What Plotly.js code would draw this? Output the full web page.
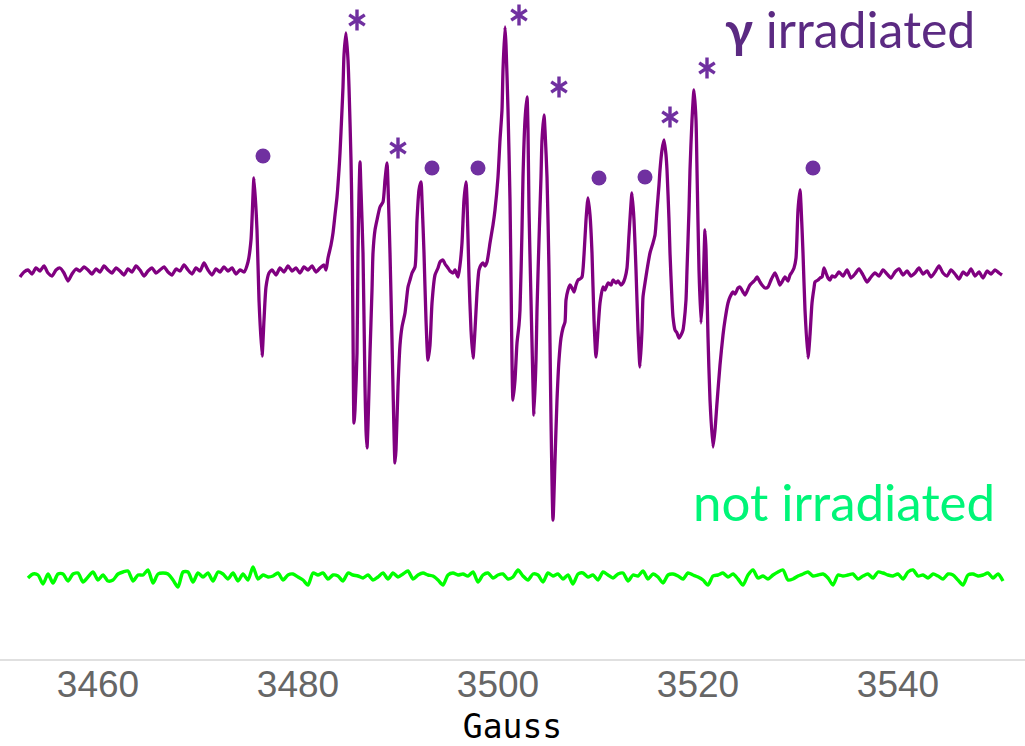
<!DOCTYPE html>
<html>
<head>
<meta charset="utf-8">
<script src="https://cdn.plot.ly/plotly-3.0.1.min.js"></script>
<style>html,body{margin:0;padding:0;background:#fff;}#chart{width:1025px;height:746px;}</style>
</head>
<body>
<div id="chart"></div>
<script>
// Irradiated sample: magnetic field (Gauss) and first-derivative EPR signal (arb. units)
const irrField = [3452.2,3452.6,3453.0,3453.4,3453.8,3454.2,3454.6,3455.0,3455.4,3455.8,3456.2,3456.6,3457.0,3457.4,3457.8,3458.2,3458.6,3459.0,3459.4,3459.8,3460.2,3460.6,3461.0,3461.4,3461.8,3462.2,3462.6,3463.0,3463.4,3463.8,3464.2,3464.6,3465.0,3465.4,3465.8,3466.2,3466.6,3467.0,3467.4,3467.8,3468.2,3468.6,3469.0,3469.4,3469.8,3470.2,3470.6,3471.0,3471.4,3471.8,3472.2,3472.6,3473.0,3473.4,3473.8,3474.2,3474.6,3475.0,3475.3,3475.6,3475.9,3476.1,3476.4,3476.6,3476.8,3477.1,3477.4,3477.8,3478.2,3478.6,3479.0,3479.4,3479.8,3480.2,3480.6,3481.0,3481.4,3481.8,3482.2,3482.6,3482.8,3483.0,3483.3,3483.5,3483.7,3483.9,3484.1,3484.2,3484.4,3484.5,3484.6,3484.8,3485.0,3485.1,3485.3,3485.4,3485.5,3485.6,3485.7,3485.9,3486.0,3486.1,3486.2,3486.3,3486.5,3486.7,3486.8,3486.9,3487.0,3487.2,3487.4,3487.5,3487.7,3487.9,3488.2,3488.5,3488.7,3488.9,3489.0,3489.2,3489.4,3489.5,3489.7,3489.8,3490.0,3490.2,3490.4,3490.7,3491.0,3491.2,3491.4,3491.7,3491.9,3492.1,3492.3,3492.4,3492.6,3492.8,3493.0,3493.2,3493.4,3493.7,3494.0,3494.2,3494.5,3494.7,3495.0,3495.2,3495.5,3495.7,3496.0,3496.2,3496.4,3496.6,3496.8,3496.9,3497.1,3497.3,3497.5,3497.7,3497.9,3498.1,3498.3,3498.5,3498.7,3498.9,3499.1,3499.2,3499.5,3499.7,3500.0,3500.2,3500.4,3500.5,3500.7,3500.8,3501.0,3501.2,3501.3,3501.5,3501.7,3501.9,3502.1,3502.2,3502.4,3502.5,3502.7,3502.9,3503.0,3503.1,3503.3,3503.4,3503.6,3503.8,3503.9,3504.1,3504.3,3504.4,3504.6,3504.7,3504.9,3505.1,3505.2,3505.3,3505.5,3505.7,3505.9,3506.1,3506.3,3506.5,3506.7,3506.8,3507.0,3507.2,3507.4,3507.6,3507.8,3508.0,3508.2,3508.4,3508.6,3508.8,3509.0,3509.2,3509.4,3509.6,3509.8,3510.0,3510.2,3510.5,3510.7,3511.0,3511.3,3511.5,3511.8,3512.0,3512.3,3512.5,3512.7,3512.9,3513.1,3513.4,3513.6,3513.8,3514.0,3514.2,3514.4,3514.5,3514.7,3514.9,3515.2,3515.5,3515.7,3515.9,3516.1,3516.2,3516.4,3516.6,3516.8,3516.9,3517.1,3517.2,3517.4,3517.5,3517.7,3517.9,3518.1,3518.3,3518.5,3518.6,3518.8,3518.9,3519.1,3519.2,3519.4,3519.6,3519.8,3519.9,3520.1,3520.3,3520.5,3520.7,3520.8,3521.0,3521.2,3521.5,3521.7,3521.9,3522.2,3522.5,3522.7,3523.0,3523.2,3523.5,3523.7,3524.0,3524.2,3524.5,3524.7,3525.0,3525.2,3525.5,3525.7,3525.9,3526.2,3526.4,3526.7,3527.0,3527.3,3527.5,3527.7,3528.0,3528.2,3528.4,3528.7,3529.0,3529.2,3529.4,3529.6,3529.8,3530.0,3530.2,3530.3,3530.5,3530.7,3531.0,3531.2,3531.4,3531.6,3531.7,3532.0,3532.2,3532.4,3532.6,3532.8,3533.0,3533.2,3533.4,3533.7,3534.1,3534.5,3534.9,3535.3,3535.7,3536.1,3536.5,3536.9,3537.3,3537.7,3538.1,3538.5,3538.9,3539.3,3539.7,3540.1,3540.5,3540.9,3541.3,3541.7,3542.1,3542.5,3542.9,3543.3,3543.7,3544.1,3544.5,3544.9,3545.3,3545.7,3546.1,3546.5,3546.9,3547.3,3547.7,3548.1,3548.5,3548.9,3549.3,3549.7,3550.1,3550.4];
const irrSignal = [-5,0,2,-2,4,1,6,-1,-4,2,4,-1,-9,-2,3,1,5,2,-2,3,0,6,2,-1,4,1,-3,3,0,6,2,-4,1,4,-1,2,5,0,-3,3,1,7,2,-2,4,1,9,2,-3,3,0,5,1,4,-2,2,0,10,32,94,42,-28,-84,-48,-15,-1,2,-3,4,0,6,1,4,-1,5,2,6,0,4,7,2,14,27,39,57,75,102,119,162,185,217,239,212,185,112,52,-58,-151,-138,-81,19,77,110,82,19,-115,-158,-176,-153,-81,-18,19,42,52,65,70,92,109,87,19,-68,-115,-191,-178,-115,-73,-55,-41,-15,-8,-1,5,52,82,90,72,19,-48,-88,-73,-31,-3,4,10,12,8,4,1,-1,2,-5,7,29,72,90,72,-5,-58,-86,-58,-21,2,7,9,6,10,22,29,47,62,95,132,162,202,245,227,162,72,-5,-128,-108,-71,-53,-38,42,95,152,175,142,62,-28,-71,-143,-88,-38,32,95,132,157,142,95,2,-71,-148,-248,-188,-128,-88,-66,-56,-50,-28,-18,-13,-16,-20,-13,-8,-7,-5,17,52,74,57,19,-48,-85,-58,-31,-15,-18,-11,-13,-8,-11,-9,-13,-11,-6,4,37,79,52,2,-58,-95,-58,-25,-11,2,19,29,37,62,87,102,122,132,117,102,52,19,-28,-45,-58,-61,-66,-63,-58,-51,-28,2,62,102,152,182,152,102,2,-51,-18,42,22,-65,-128,-175,-158,-131,-93,-63,-48,-31,-25,-20,-22,-16,-15,-20,-23,-17,-13,-10,-8,-5,-10,-13,-16,-15,-8,-4,-1,-8,-13,-10,-5,-9,-3,0,4,14,62,82,67,19,-38,-86,-63,-31,-16,-10,-8,-6,-5,4,-1,-6,-8,-4,-5,0,-4,2,-6,-2,3,-3,-10,-5,-1,-4,2,-2,-6,0,3,-3,1,-4,-1,4,-2,1,-5,0,6,-1,-4,2,-2,-7,0,-3,3,-4,0,-6,1,-2,2,-1,-3];

// Non-irradiated sample
const refField = [3453.0,3453.5,3454.0,3454.5,3455.0,3455.5,3456.0,3456.5,3457.0,3457.5,3458.0,3458.5,3459.0,3459.5,3460.0,3460.5,3461.0,3461.5,3462.0,3462.5,3463.0,3463.5,3464.0,3464.5,3465.0,3465.5,3466.0,3466.5,3467.0,3467.5,3468.0,3468.5,3469.0,3469.5,3470.0,3470.5,3471.0,3471.5,3472.0,3472.5,3473.0,3473.5,3474.0,3474.5,3475.0,3475.5,3476.0,3476.5,3477.0,3477.5,3478.0,3478.5,3479.0,3479.5,3480.0,3480.5,3481.0,3481.5,3482.0,3482.5,3483.0,3483.5,3484.0,3484.5,3485.0,3485.5,3486.0,3486.5,3487.0,3487.5,3488.0,3488.5,3489.0,3489.5,3490.0,3490.5,3491.0,3491.5,3492.0,3492.5,3493.0,3493.5,3494.0,3494.5,3495.0,3495.5,3496.0,3496.5,3497.0,3497.5,3498.0,3498.5,3499.0,3499.5,3500.0,3500.5,3501.0,3501.5,3502.0,3502.5,3503.0,3503.5,3504.0,3504.5,3505.0,3505.5,3506.0,3506.5,3507.0,3507.5,3508.0,3508.5,3509.0,3509.5,3510.0,3510.5,3511.0,3511.5,3512.0,3512.5,3513.0,3513.5,3514.0,3514.5,3515.0,3515.5,3516.0,3516.5,3517.0,3517.5,3518.0,3518.5,3519.0,3519.5,3520.0,3520.5,3521.0,3521.5,3522.0,3522.5,3523.0,3523.5,3524.0,3524.5,3525.0,3525.5,3526.0,3526.5,3527.0,3527.5,3528.0,3528.5,3529.0,3529.5,3530.0,3530.5,3531.0,3531.5,3532.0,3532.5,3533.0,3533.5,3534.0,3534.5,3535.0,3535.5,3536.0,3536.5,3537.0,3537.5,3538.0,3538.5,3539.0,3539.5,3540.0,3540.5,3541.0,3541.5,3542.0,3542.5,3543.0,3543.5,3544.0,3544.5,3545.0,3545.5,3546.0,3546.5,3547.0,3547.5,3548.0,3548.5,3549.0,3549.5,3550.0,3550.5];
const refSignal = [-1,3,2,-7,3,-6,3,3,-4,3,4,-5,0,5,-3,2,-4,-3,3,5,6,-4,2,2,7,-6,3,4,3,-3,-10,5,5,-5,4,0,4,-4,5,3,-2,4,-4,3,-3,10,-2,2,0,1,4,-3,2,3,0,-3,-8,4,2,4,-2,2,1,-4,4,2,1,-1,2,-3,0,4,-2,4,0,3,6,-2,2,4,2,1,-3,-8,2,4,2,3,1,5,-5,2,4,-1,2,3,-2,0,7,1,-3,3,2,-5,4,1,3,-2,2,-7,3,4,0,2,-3,5,2,-1,3,4,-4,2,1,6,-2,3,0,-6,2,3,1,-2,4,2,0,-3,-8,1,2,4,0,3,-2,-8,2,7,-1,1,-2,2,5,7,-3,-2,1,3,5,1,2,3,-1,-8,2,1,2,3,-2,1,3,-1,5,4,2,1,3,-2,5,7,1,2,-1,3,1,-2,3,2,-3,-8,2,3,1,2,4,-1,3,-4];

// Annotated lines: dots and asterisks (field, signal height above baseline)
const dotField = [3476.5, 3493.4, 3498.0, 3510.1, 3514.7, 3531.5];
const dotSignal = [116, 104, 104, 94, 95, 104];
const starField = [3485.9, 3490.0, 3502.1, 3506.1, 3517.2, 3520.9];
const starSignal = [252, 124, 257, 185, 155, 204];

const tickValues = [3460, 3480, 3500, 3520, 3540];
const labelIrr = '<b>γ</b> irradiated';
const labelRef = 'not irradiated';

// vertical stacking offsets of the two spectra
const offIrr = 387, offRef = 82;
const shift = (arr, o) => arr.map(v => v + o);

const markColor = '#7030a0';
const traces = [
  {x: refField, y: shift(refSignal, offRef), type: 'scatter', mode: 'lines',
   line: {color: '#00ff00', width: 3.4, shape: 'spline', smoothing: 0.7}, hoverinfo: 'skip'},
  {x: irrField, y: shift(irrSignal, offIrr), type: 'scatter', mode: 'lines',
   line: {color: '#800080', width: 3.3, shape: 'spline', smoothing: 0.6}, hoverinfo: 'skip'},
  {x: dotField, y: shift(dotSignal, offIrr), type: 'scatter', mode: 'markers',
   marker: {symbol: 'circle', size: 15, color: markColor}, cliponaxis: false},
  {x: starField, y: shift(starSignal, offIrr), type: 'scatter', mode: 'markers',
   marker: {symbol: 'y-up-open', size: 13, color: markColor, line: {color: markColor, width: 3.4}}, cliponaxis: false},
  {x: starField, y: shift(starSignal, offIrr), type: 'scatter', mode: 'markers',
   marker: {symbol: 'y-down-open', size: 13, color: markColor, line: {color: markColor, width: 3.4}}, cliponaxis: false}
];

const layout = {
  width: 1025, height: 746,
  margin: {l: 0, r: 0, t: 0, b: 87},
  paper_bgcolor: '#ffffff', plot_bgcolor: '#ffffff',
  showlegend: false,
  xaxis: {
    range: [3450.2, 3552.7],
    tickvals: tickValues,
    ticktext: tickValues.map(String),
    ticks: '', showgrid: false, zeroline: false,
    showline: true, linecolor: '#e0e0e0', linewidth: 2,
    ticklabelstandoff: -8,
    tickfont: {family: 'Liberation Sans, Arial, sans-serif', size: 37, color: '#666666'},
    title: {text: 'Gauss', font: {family: 'DejaVu Sans Mono, monospace', size: 33, color: '#000000'}, standoff: 18},
    automargin: false
  },
  yaxis: {range: [0, 659], visible: false, fixedrange: true},
  annotations: [
    {x: 3535.2, y: 630, xref: 'x', yref: 'y', text: labelIrr, showarrow: false,
     xanchor: 'center', yanchor: 'middle',
     font: {family: 'Lato, Noto Sans, sans-serif', size: 50, color: '#5b2a82'}},
    {x: 3534.6, y: 158, xref: 'x', yref: 'y', text: labelRef, showarrow: false,
     xanchor: 'center', yanchor: 'middle',
     font: {family: 'Lato, Noto Sans, sans-serif', size: 51, color: '#00f578'}}
  ]
};

Plotly.newPlot('chart', traces, layout, {displayModeBar: false, staticPlot: true});
</script>
</body>
</html>
